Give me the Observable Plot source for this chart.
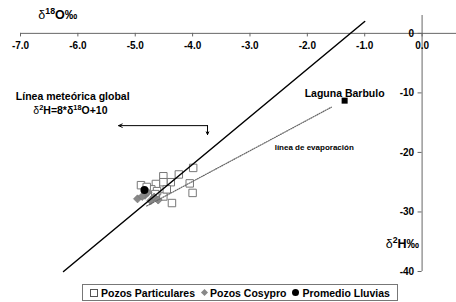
<!DOCTYPE html>
<html><head><meta charset="utf-8">
<script src="https://cdn.jsdelivr.net/npm/d3@7"></script>
<script src="https://cdn.jsdelivr.net/npm/@observablehq/plot@0.6"></script>
<style>
body{margin:0;background:#fff;font-family:"Liberation Sans",Arial,sans-serif;}
#wrap{position:relative;width:456px;height:302px;overflow:hidden;}
#chart svg{display:block;}
#legend{position:absolute;left:82px;top:284px;width:316px;height:17px;box-sizing:border-box;border:1px solid #777;display:flex;align-items:center;justify-content:center;font-weight:bold;font-size:10.5px;color:#000;white-space:nowrap;}
#legend .it{display:flex;align-items:center;margin:0 3px;}
#legend .sym{display:inline-block;margin-right:3px;}
.sq{width:6px;height:6px;border:1px solid #555;background:#fff;}
.dm{width:5px;height:5px;background:#888;transform:rotate(45deg);margin-left:1px;}
.ci{width:7px;height:7px;border-radius:50%;background:#000;}
</style></head>
<body>
<div id="wrap"><div id="chart"></div>
<div id="legend">
<span class="it"><span class="sym sq"></span>Pozos Particulares</span>
<span class="it"><span class="sym dm"></span>Pozos Cosypro</span>
<span class="it"><span class="sym ci"></span>Promedio Lluvias</span>
</div></div>
<script>
const particularesO = [-3.99,-4.24,-4.51,-4.38,-4.51,-4.64,-4.90,-4.05,-4.00,-4.72,-4.51,-4.36,-4.80,-4.62,-4.45,-4.65];
const particularesH = [-22.6,-23.7,-24.0,-25.0,-25.0,-25.3,-25.5,-25.2,-26.8,-26.2,-27.4,-28.5,-25.8,-26.5,-26.2,-27.0];
const cosyproO = [-4.96,-4.83,-4.73,-4.67,-4.78,-4.88,-4.60];
const cosyproH = [-27.8,-27.2,-28.1,-27.5,-26.7,-27.4,-28.0];
const lluviasO = [-4.84];
const lluviasH = [-26.3];
const lagunaO = [-1.35];
const lagunaH = [-11.3];
const meteoricO = [-6.25,-1.0];
const meteoricH = [-40,2.0];
const evapO = [-4.8,-1.58];
const evapH = [-29.0,-12.4];
const xTicks = [-7,-6,-5,-4,-3,-2,-1,0];
const yTicks = [0,-10,-20,-30,-40];

const pts = (xs, ys) => xs.map((x,i)=>({x, y: ys[i]}));
const font = {fontWeight:"bold", fontFamily:"Liberation Sans, Arial, sans-serif"};

const plot = Plot.plot({
  width:456, height:283,
  marginLeft:20, marginRight:0, marginTop:15, marginBottom:12,
  x:{domain:[-7,0.6], axis:null},
  y:{domain:[-40,3], axis:null},
  style:{background:"#fff", overflow:"visible"},
  marks:[
    Plot.ruleY([0], {x1:-7, x2:0.6, stroke:"#666"}),
    Plot.ruleX([0], {y1:-40, y2:3, stroke:"#666"}),
    Plot.ruleX(xTicks, {x:d=>d, y1:0, y2:-0.6, stroke:"#666"}),
    Plot.text(xTicks, {x:d=>d, y:0, dy:12, text:d=>d.toFixed(1), fontSize:10, ...font}),
    Plot.ruleY(yTicks, {y:d=>d, x1:-0.07, x2:0, stroke:"#666"}),
    Plot.text(yTicks, {x:0, y:d=>d, dx:-8, textAnchor:"end", text:d=>String(d), fontSize:10, ...font}),
    Plot.dot(pts(particularesO, particularesH), {x:"x", y:"y", symbol:"square", r:4.2, fill:"#fff", stroke:"#777", strokeWidth:1}),
    Plot.dot(pts(cosyproO, cosyproH), {x:"x", y:"y", symbol:"diamond2", r:3.6, fill:"#888", stroke:"#777", strokeWidth:0.8}),
    Plot.dot(pts(lluviasO, lluviasH), {x:"x", y:"y", r:4, fill:"#000"}),
    Plot.dot(pts(lagunaO, lagunaH), {x:"x", y:"y", symbol:"square", r:3.4, fill:"#000"}),
    Plot.line(pts(meteoricO, meteoricH), {x:"x", y:"y", stroke:"#000", strokeWidth:1.5}),
    Plot.line(pts(evapO, evapH), {x:"x", y:"y", stroke:"#666", strokeWidth:1.2, strokeDasharray:"1,1.3"}),
    Plot.arrow([{x1:-3.74, y1:-15.5, x2:-5.29, y2:-15.5}], {x1:"x1", y1:"y1", x2:"x2", y2:"y2", stroke:"#000", strokeWidth:1, headLength:6, headAngle:50}),
    Plot.arrow([{x1:-3.74, y1:-15.5, x2:-3.74, y2:-17.0}], {x1:"x1", y1:"y1", x2:"x2", y2:"y2", stroke:"#000", strokeWidth:1, headLength:5, headAngle:50}),
    Plot.text(["Laguna Barbulo"], {x:-1.35, y:-10.1, text:d=>d, fontSize:10.5, ...font}),
    Plot.text(["línea de evaporación"], {x:-1.88, y:-19.2, text:d=>d, fontSize:8, ...font}),
    Plot.text(["Línea meteórica global"], {x:-6.09, y:-10.6, text:d=>d, fontSize:10.5, ...font}),
    Plot.text(["δ^{2}H=8*δ^{18}O+10"], {x:-6.13, y:-12.9, text:d=>d, fontSize:10.5, ...font}),
    Plot.text(["δ^{18}O‰"], {x:-6.35, y:0, dy:-18, text:d=>d, fontSize:12.5, ...font}),
    Plot.text(["δ^{2}H‰"], {x:0, y:-35.3, dx:-3, textAnchor:"end", text:d=>d, fontSize:12.5, ...font})
  ]
});
// convert ^{..} markup into real superscript tspans
d3.select(plot).selectAll("text").each(function(){
  const t = this.textContent;
  if (!t.includes("^{")) return;
  const parts = t.split(/\^\{([^}]*)\}/);
  this.textContent = "";
  const sel = d3.select(this);
  parts.forEach((p,i)=>{
    if (!p) return;
    const sup = i % 2 === 1;
    const ts = sel.append("tspan").text(p);
    if (sup) ts.attr("font-size","70%").attr("baseline-shift","super");
    else if (p.startsWith("δ") && p.length === 1) ts.attr("font-weight","normal");
  });
});
document.getElementById("chart").appendChild(plot);
</script>
</body></html>
